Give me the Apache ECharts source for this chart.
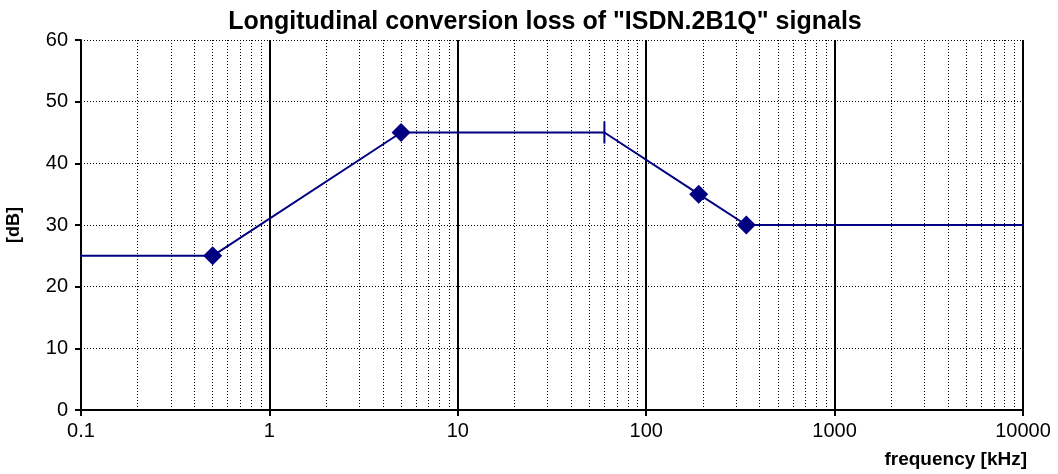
<!DOCTYPE html>
<html>
<head>
<meta charset="utf-8">
<script src="https://cdn.jsdelivr.net/npm/echarts@6/dist/echarts.min.js"></script>
<style>
  html, body { margin: 0; padding: 0; background: #ffffff; }
  #chart { width: 1058px; height: 474px; }
</style>
</head>
<body>
<div id="chart"></div>
<script>
// ---- data ----
var frequencyKHz = [0.09, 0.5, 5, 60, 190, 340, 11500];
var lossDB       = [25,   25,  45, 45, 35,  30,  30];
var pointMarks   = ['none', 'diamond', 'diamond', 'tick', 'diamond', 'diamond', 'none'];
var decades = [0.1, 1, 10, 100, 1000];
var minorMultipliers = [2, 3, 4, 5, 6, 7, 8, 9];
var minorGridFreqs = [];
decades.forEach(function (d) {
  minorMultipliers.forEach(function (m) { minorGridFreqs.push(+(d * m).toPrecision(3)); });
});
var yTicks = [0, 10, 20, 30, 40, 50, 60];
var xTickLabels = ['0.1', '1', '10', '100', '1000', '10000'];

var FONT = 'Liberation Sans, Arial, sans-serif';
var NAVY = '#000080';

var seriesData = frequencyKHz.map(function (f, i) {
  var mk = pointMarks[i];
  var item = { value: [f, lossDB[i]] };
  if (mk === 'diamond') {
    item.symbol = 'diamond';
    item.symbolSize = 19;
  } else if (mk === 'tick') {
    item.symbol = 'rect';
    item.symbolSize = [2, 22];
  } else {
    item.symbol = 'none';
  }
  return item;
});

var chart = echarts.init(document.getElementById('chart'), null, { renderer: 'canvas' });
chart.setOption({
  animation: false,
  backgroundColor: '#ffffff',
  title: {
    text: 'Longitudinal conversion loss of "ISDN.2B1Q" signals',
    left: 540, top: 5, textAlign: 'center',
    textStyle: { fontFamily: FONT, fontWeight: 'bold', fontSize: 25, color: '#000' }
  },
  grid: { left: 81, right: 35, top: 40, bottom: 64, containLabel: false, outerBoundsMode: 'none' },
  xAxis: {
    type: 'log', logBase: 10, min: 0.1, max: 10000,
    name: 'frequency [kHz]', nameLocation: 'end', nameGap: 0,
    nameTextStyle: { fontFamily: FONT, fontWeight: 'bold', fontSize: 19, color: '#000',
      align: 'right', verticalAlign: 'top', padding: [40, -4, 0, 0] },
    axisLine: { show: true, onZero: false, lineStyle: { color: '#000', width: 2 } },
    axisTick: { show: true, inside: false, length: 6, lineStyle: { color: '#000', width: 2 } },
    axisLabel: { fontFamily: FONT, fontSize: 20, color: '#000', margin: 11,
      formatter: function (v) {
        var i = Math.round(Math.log10(v) + 1);
        return xTickLabels[i] !== undefined ? xTickLabels[i] : '';
      } },
    splitLine: { show: true, lineStyle: { color: '#000', width: 2, type: 'solid' } },
    minorTick: { show: false }, minorSplitLine: { show: false }
  },
  yAxis: {
    type: 'value', min: yTicks[0], max: yTicks[yTicks.length - 1], interval: 10,
    name: '[dB]', nameLocation: 'middle', nameGap: 58, nameRotate: 90,
    nameTextStyle: { fontFamily: FONT, fontWeight: 'bold', fontSize: 18, color: '#000' },
    axisLine: { show: true, lineStyle: { color: '#000', width: 2 } },
    axisTick: { show: true, inside: false, length: 6, lineStyle: { color: '#000', width: 2 } },
    axisLabel: { fontFamily: FONT, fontSize: 20, color: '#000', margin: 13 },
    splitLine: { show: true, lineStyle: { color: '#000', width: 1, type: [1, 2] } }
  },
  series: [
    {
      type: 'line', data: [], silent: true,
      markLine: {
        silent: true, symbol: 'none', animation: false,
        label: { show: false },
        lineStyle: { color: '#000', width: 1, type: [1, 2] },
        emphasis: { disabled: true },
        data: minorGridFreqs.map(function (f) { return { xAxis: f }; })
      }
    },
    {
      type: 'line', data: seriesData, clip: false, z: 5,
      lineStyle: { color: NAVY, width: 2 },
      itemStyle: { color: NAVY },
      showAllSymbol: true
    }
  ]
});
</script>
</body>
</html>
